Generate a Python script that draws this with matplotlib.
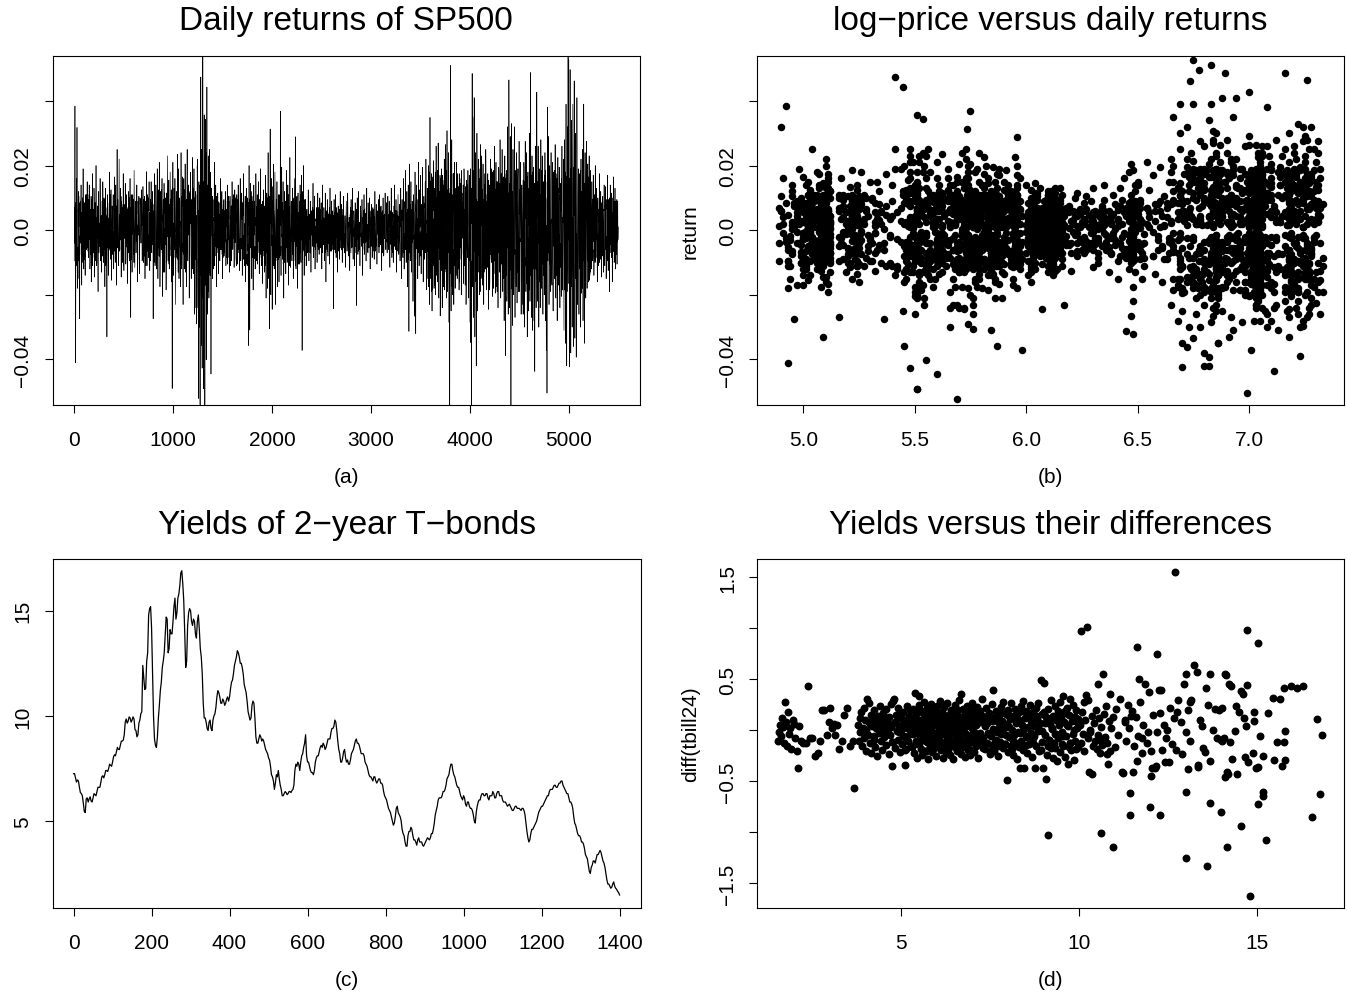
import matplotlib
matplotlib.use("Agg")
import matplotlib.pyplot as plt
import numpy as np

plt.rcParams['font.family'] = ['Liberation Sans', 'DejaVu Sans']

# SP500 daily returns (basis points), four days sampled in each week, Oct 1982 - mid 2004
# day 1 of the week (holds the big moves)
sp_ret_bp = [
    -95, 384, -410, 160, 318, -180, 120, -150, -274, 90, 140, -170, 60, 190, -120, 85, -140, 110, -60, 150,
    110, -85, 140, -120, 60, -160, 95, 175, -70, 130, -145, 40, 200, -110, 75, -190, 120, -50, 160, -95,
    -130, 90, 150, -100, 45, -175, 130, -60, -330, 110, -140, 70, 180, -90, 125, -155, 55, 100, -120, 165,
    -80, 140, -170, 250, 95, -110, 220, -60, 130, -145, 80, -100, 175, -125, 60, 145, -90, 110, -165, 70,
    120, -95, 160, -270, 75, -130, 110, -55, 185, -115, 90, -70, 140, -160, 50, 105, -135, 80, -40, 125,
    -90, 135, -60, 105, -150, 70, 181, -110, 45, -85, 150, -125, 95, 150, -70, 120, -274, 60, 175, -100,
    140, -110, 190, -150, 85, 210, -175, 120, -60, 160, -205, 95, 145, -130, 70, -185, 115, 230, -95, 155,
    -120, 180, 95, -160, -490, 210, -140, 75, 160, -230, 120, -85, 235, 190, -150, 100, -175, 240, -110, 165,
    -230, 160, -120, 205, 90, -175, 250, -95, 140, -210, 115, 180, -150, 70, 225, -135, 190, -260, 120, -240,
    -290, 150, -240, -521, -300, -2000, 474, -357, -427, 910, -491, 357, -830, 343, -401, 443, -260, 230, -210, 250,
    180, -445, 130, -150, 95, -120, 210, -80, 140, -175, 60, 115, -135, 85, -95, 160, -60, 120, -150, 75,
    95, -70, 120, -110, 55, 140, -85, 65, -130, 105, 45, -95, 150, -60, 80, -115, 125, 30, -90, 110,
    -105, 140, 70, -125, 160, -90, 115, -140, 85, 175, -110, 60, -160, 130, -75, 100, -357, 200, -309, 145,
    120, -150, 90, -185, 140, 65, -120, 175, -95, 110, -70, 150, -135, 80, 190, -110, 55, -165, 125, -80,
    -130, 170, -210, 115, -180, 240, -150, -305, 313, -200, 160, -245, 135, 205, -120, 180, -230, 95, 150, -175,
    110, -160, 85, 368, -140, 195, -90, 150, -210, 120, 70, -135, 185, -100, 140, -170, 60, 225, -115, 90,
    -95, 130, -150, 75, 160, 289, -120, 90, -180, 115, 55, -105, 140, -85, 170, -372, 120, 200, -140, 95,
    80, -110, 65, -70, 125, -95, 40, 90, -130, 60, -50, 145, -85, 105, -120, 35, 70, -100, 115, -60,
    -75, 100, -55, 85, -120, 140, -40, 70, -95, 115, -160, 60, 95, -80, 45, -105, 130, -65, 90, -45,
    60, -243, 95, -60, 110, -85, 50, -130, 75, 40, -90, 120, -55, 80, -100, 65, 105, -70, 45, -115,
    90, -65, 115, -80, 40, -125, 70, 95, -55, 130, -90, 60, -110, 85, 50, -233, 100, -75, 120, -60,
    -110, 75, -50, 95, -140, 60, 110, -75, 45, -95, 130, -65, 85, -40, 100, -120, 55, 80, -85, 70,
    65, -90, 120, -55, 80, -105, 40, 95, -70, 110, -45, 75, -125, 60, 100, -80, 50, 115, -60, 85,
    -70, 105, -45, 90, -115, 60, 130, -85, 55, -100, 75, 140, -60, 95, -130, 45, 110, -75, 80, -95,
    130, -150, 95, -80, 160, -120, 70, 185, -100, 120, -175, 140, -313, 205, -95, 150, -130, 85, -220, 110,
    -266, 180, -320, 140, 95, -150, 210, -110, 125, 170, -135, 80, 195, -160, 105, -90, 150, 220, -185, 130,
    -150, 200, -230, 349, -120, 175, -250, 140, 215, -180, 95, -200, 260, -140, 185, 270, -210, 120, -265, 160,
    190, -240, 155, -175, 220, -130, 265, -210, 308, -190, 240, -285, -700, 510, -250, 280, -200, 175, -230, 210,
    -180, 130, 210, -150, 95, -120, 175, -90, 145, -200, 115, 60, -165, 190, -110, 135, -230, 155, -85, 120,
    -210, 160, -285, -348, -690, 485, 350, -270, 410, -330, 240, -420, 300, -250, 220, 190, -200, 265, -150, 230,
    -170, 205, -230, 140, -120, 250, -185, 110, 175, -245, 130, -160, 220, -90, 155, -205, 185, -135, 260, -195,
    210, -175, 150, -240, 195, -130, 280, -210, 120, 250, -190, 165, -280, 230, -388, 175, -220, 320, -260, 465,
    -240, 290, -580, 330, -295, 250, -200, 320, -270, 185, 240, -225, 160, -190, 275, -150, 210, -260, 140, -230,
    -260, 210, -300, 275, -190, 240, -330, 180, -250, 300, -220, 488, -270, 230, -310, 195, -280, -437, 260, -240,
    427, -220, 260, -300, 190, -240, 280, -180, 230, -260, 150, -200, 240, -280, -372, -504, 381, 290, -230, 200,
    -190, 240, -160, 210, -250, 180, -140, 265, -210, 150, -280, 225, -170, 195, -240, 130, -205, 260, -185, 220,
    -310, 280, -350, 390, -420, 320, 580, 527, -423, 497, -380, 340, -300, 390, -360, 462, -334, 300, -393, 410,
    -230, 190, -260, 175, -300, 220, -195, 250, -280, 390, -350, 240, -210, 275, -180, 205, -160, 230, -140, 185,
    -120, 150, -95, 170, -140, 110, 200, -85, 130, -160, 90, -110, 175, -70, 120, -145, 80, 105, -130, 140,
    -110, 135, -150, 95, 170, -125, 80, -190, 140, -70, 115, -160, 100, 165, -95, 130, -120, 75, -105, 90,
]

# day 2 of the week
sp_ret_tue_bp = [
    70, -25, -95, 40, 105, -60, 15, -110, 85, -5, -75, 55, 100, -40, 25, -90, 65, -15, 95, -50,
    -65, 90, 10, -100, 50, -30, 80, -85, 20, 110, -45, 60, -10, -95, 75, 35, -70, 5, 100, -55,
    45, -80, 105, -20, -60, 95, 30, -105, 70, -35, 15, 85, -50, -90, 55, 0, -75, 110, -25, 65,
    -100, 35, 75, -55, 10, -85, 105, 50, -30, 90, -65, 20, -110, 80, 40, -15, 95, -45, 60, -70,
    25, 100, -40, 70, -90, 55, -5, -75, 110, -60, 35, 85, -20, -105, 65, 15, -50, 95, -35, 80,
    -55, 15, 95, -80, 45, -110, 70, 20, -65, 100, -30, 55, -95, 35, 85, -45, 5, -100, 75, -20,
    90, -120, 30, 110, -50, 75, -95, 15, 125, -70, 45, -130, 60, -15, 100, -85, 20, 130, -40, -105,
    -35, 115, -80, 55, 130, -110, 20, -60, 95, -125, 70, 10, -90, 120, -25, 85, -115, 45, 105, -65,
    110, -45, 75, -130, 25, 95, -70, 130, -15, -100, 60, 120, -85, 40, -120, 85, -30, 100, -55, 15,
    -180, 220, -90, 150, -240, 60, 190, -130, 250, -210, 110, -60, 230, -170, 80, -250, 140, -40, 200, -120,
    60, -95, 25, 105, -70, 40, -110, 85, -20, 100, -55, 10, 75, -90, 50, -35, 110, -75, 20, 90,
    -80, 45, 100, -30, 65, -105, 15, 90, -60, 35, -95, 75, 5, -50, 110, -85, 30, 60, -110, 40,
    95, -60, 20, -100, 80, -25, 110, -70, 45, -90, 10, 105, -45, 65, -110, 30, 85, -15, -80, 55,
    -40, 105, -85, 35, -15, 90, -65, 110, 0, -105, 60, -30, 95, -75, 25, 80, -100, 50, -20, 70,
    75, -110, 55, -20, 100, -90, 30, -60, 110, -45, 85, -105, 15, 65, -80, 105, -35, 40, -95, 25,
    -90, 30, 110, -65, 50, -20, 85, -105, 40, 95, -75, 10, -55, 100, -30, 70, -110, 60, -10, 80,
    50, -75, 95, -35, 20, -110, 65, 105, -85, 30, -50, 90, -15, -100, 75, 45, -65, 110, -25, -80,
    -45, 60, -20, 35, -65, 10, 50, -55, 25, -5, 70, -40, 15, 55, -60, 30, -25, 65, -50, 5,
    40, -15, 65, -50, 20, -70, 5, 45, -35, 60, -10, 30, -65, 50, -25, 70, -45, 15, -55, 35,
    -60, 25, -5, 55, -40, 70, -20, 35, -65, 10, 50, -30, 65, -15, 45, -55, 20, -70, 30, 0,
    15, -50, 70, -25, 40, -65, 30, -10, 60, -45, 5, 55, -35, 20, -70, 45, -15, 65, -40, 25,
    -30, 55, -15, 65, -45, 20, -60, 40, -5, 70, -35, 10, 50, -55, 25, -20, 60, -40, 35, -65,
    50, -35, 20, -60, 65, -10, 40, -50, 15, -25, 70, -45, 30, -5, 55, -65, 10, 45, -30, 60,
    -20, 65, -45, 30, -5, 55, -60, 15, 40, -35, 70, -10, 25, -50, 60, -25, 50, -70, 5, 35,
    75, -40, 20, -85, 55, -15, 90, -60, 35, -5, 65, -90, 45, -25, 80, -50, 10, 70, -75, 30,
    -65, 85, -20, 50, -90, 25, 70, -40, 10, -80, 60, -30, 90, -55, 15, 40, -70, 80, -10, 55,
    130, -60, 180, -150, 40, -190, 95, 165, -110, 20, -170, 140, -35, 75, -130, 185, -80, 55, -160, 110,
    -120, 170, -45, 90, -185, 60, 150, -95, 10, -140, 190, -70, 115, -20, 160, -175, 35, 125, -60, -100,
    80, -140, 45, 175, -90, 20, -160, 120, -55, 185, -25, 65, -125, 150, -70, 100, -180, 30, 140, -40,
    -150, 60, 190, -95, 130, -175, 15, 110, -55, 160, -125, 85, -190, 40, 175, -80, 125, -20, -145, 95,
    105, -165, 35, 140, -75, 180, -115, 50, -20, 155, -135, 90, -50, 190, -90, 25, -180, 120, 60, -110,
    -60, 150, -125, 25, 185, -95, 70, -170, 115, -35, 160, -80, 10, -145, 130, 55, -190, 95, -20, 170,
    145, -85, 20, -180, 120, 65, -140, 175, -45, 95, -160, 35, 190, -110, 50, -25, 150, -125, 80, -70,
    -135, 190, -60, 85, -150, 30, 165, -100, 55, -185, 110, -15, 140, -75, 180, -120, 40, -165, 95, 10,
    90, -175, 130, -40, 160, -115, 25, 185, -70, 115, -140, 60, -190, 100, -30, 150, -95, 45, -160, 125,
    -115, 60, -170, 145, -20, 95, -150, 30, 175, -85, 125, -45, 70, -185, 110, -10, 160, -130, 40, 90,
    170, -130, 60, -190, 145, -25, 115, -165, 85, -60, 190, -105, 35, 155, -145, 70, -180, 125, -40, 100,
    -90, 160, -140, 45, 185, -75, 120, -20, -170, 105, -55, 150, -120, 30, 175, -95, 65, -155, 135, -35,
    55, -85, 25, 100, -60, 10, -95, 75, -30, 90, -45, 65, -100, 35, -15, 85, -70, 45, -5, 80,
    -75, 40, -100, 65, -20, 95, -55, 15, 85, -40, 100, -90, 30, -65, 50, -10, 90, -45, 70, -30,
]

# day 3 of the week
sp_ret_mid_bp = [
    12, -35, 48, -8, 60, -52, 25, -18, 75, -40, 5, 33, -66, 20, -28, 42, -10, 55, -45, 18,
    -22, 40, -5, 65, -38, 15, -58, 30, -12, 50, -70, 8, 36, -25, 58, -15, 22, -48, 10, 44,
    30, -15, 52, -42, 6, 68, -30, 20, -55, 38, -8, 26, -62, 45, -20, 10, -36, 72, -4, -28,
    -45, 22, -10, 58, -32, 40, -65, 14, 28, -18, 50, -40, 8, 62, -26, 35, -52, 18, -6, 46,
    8, -48, 35, -20, 70, -12, 42, -58, 24, -6, 55, -34, 16, -72, 38, -22, 60, -10, 30, -44,
    -30, 55, -16, 28, -60, 44, -4, 36, -48, 66, -24, 12, -40, 50, -8, 32, -62, 20, 48, -14,
    45, -28, 70, -55, 18, -80, 35, -10, 62, -42, 24, -66, 52, 6, -36, 84, -20, 40, -58, 12,
    -60, 30, -14, 78, -46, 22, -85, 56, -8, 40, -70, 64, 12, -32, 88, -52, 26, -18, 74, -40,
    50, -75, 20, -38, 90, -55, 34, -12, 68, -84, 26, -45, 80, -22, 10, -64, 46, -30, 72, -18,
    -110, 160, -85, 120, -190, 70, -140, 200, -60, 150, -175, 95, -125, 180, -40, 110, -90, 65, -130, 85,
    -40, 72, -18, 50, -85, 30, -8, 64, -52, 20, -36, 88, -62, 14, 46, -28, 58, -74, 24, -10,
    36, -14, 55, -42, 10, 68, -30, 22, -58, 44, -6, 30, -48, 62, -20, 8, -38, 50, -66, 18,
    -26, 60, -44, 12, 78, -58, 34, -16, 52, -80, 20, -36, 70, -8, 44, -64, 28, -12, 86, -50,
    48, -22, 66, -54, 18, -88, 40, -6, 74, -36, 58, -18, 32, -72, 14, 60, -44, 26, -62, 10,
    -55, 80, -30, 64, -95, 42, -20, 105, -70, 28, -48, 90, -12, 56, -84, 36, -26, 72, -60, 16,
    62, -40, 24, -78, 50, -14, 86, -56, 30, -8, 68, -44, 18, -90, 38, -24, 74, -50, 12, -34,
    -30, 58, -68, 20, -44, 76, -8, 40, -82, 34, -18, 62, -50, 10, 88, -36, 26, -58, 46, -12,
    18, -36, 42, -10, 50, -28, 6, -46, 32, -14, 56, -22, 38, -52, 12, 28, -40, 20, -8, 46,
    -24, 44, -12, 30, -50, 16, 38, -34, 8, -18, 52, -30, 22, -42, 6, 36, -20, 48, -26, 14,
    28, -10, 46, -38, 14, -22, 54, -6, 34, -48, 20, -14, 40, -30, 10, 50, -36, 18, -4, 32,
    -16, 38, -44, 24, -8, 48, -28, 12, -52, 30, -20, 42, -6, 36, -40, 16, -26, 54, -12, 22,
    34, -20, 10, -46, 40, -14, 26, -38, 52, -8, 18, -32, 44, -24, 6, 38, -50, 20, -10, 30,
    -12, 42, -30, 16, -48, 28, -4, 36, -22, 54, -18, 8, -40, 32, -14, 46, -26, 12, -36, 24,
    20, -34, 48, -10, 30, -44, 14, -24, 50, -38, 6, 40, -16, 28, -52, 18, -8, 44, -30, 12,
    -40, 62, -22, 48, -70, 30, -10, 56, -46, 18, -34, 74, -58, 26, -14, 64, -38, 8, 52, -28,
    54, -32, 76, -58, 20, -44, 68, -12, 40, -80, 28, -18, 60, -50, 14, 84, -36, 22, -66, 36,
    -70, 95, -40, 120, -85, 30, -110, 60, -20, 130, -75, 45, -100, 15, 88, -55, 110, -30, 70, -125,
    85, -60, 140, -30, 100, -120, 50, -90, 20, 125, -45, 75, -135, 40, -15, 110, -80, 60, -105, 35,
    -50, 75, -25, 95, -70, 40, -110, 20, 65, -45, 85, -15, 55, -90, 30, -60, 100, -35, 12, -80,
    120, -95, 60, -140, 35, 150, -70, 105, -30, 80, -160, 45, -115, 90, -55, 130, -20, 70, -125, 15,
    -85, 60, -130, 25, 110, -50, 90, -115, 40, -20, 140, -75, 55, -100, 15, 120, -60, 35, -95, 70,
    65, -120, 30, 95, -70, 145, -40, 80, -105, 20, 125, -55, 100, -25, 60, -140, 85, -15, 115, -65,
    -100, 135, -50, 80, -145, 30, 110, -75, 160, -20, 90, -130, 45, -85, 125, -35, 70, -155, 25, 105,
    120, -60, 150, -110, 40, -165, 85, -25, 130, -90, 55, -140, 20, 100, -70, 165, -45, 75, -120, 35,
    -95, 150, -40, 110, -160, 65, -20, 135, -105, 50, -75, 170, -30, 90, -140, 25, 115, -60, 145, -85,
    70, -125, 35, -95, 150, -50, 110, -20, 85, -140, 45, -70, 130, -15, 95, -115, 60, -160, 25, -80,
    -140, 180, -60, 125, -190, 90, -30, 160, -110, 70, -175, 40, 135, -85, 195, -50, 100, -150, 20, -120,
    95, -70, 150, -120, 40, -160, 80, -25, 130, -95, 55, -145, 20, 110, -60, 165, -35, 75, -130, 45,
    -40, 75, -20, 60, -90, 30, -55, 85, -10, 45, -70, 25, -35, 95, -15, 50, -80, 20, 65, -30,
    35, -60, 15, 80, -45, 25, -85, 55, -10, 70, -30, 40, -65, 20, 90, -50, 10, -75, 45, -25,
]

# day 4 of the week
sp_ret_thu_bp = [
    -40, 85, -110, 20, 60, -95, 105, -30, 10, 75, -65, 45, -100, 90, -20, 35, -80, 110, -5, -55,
    95, -30, 50, -75, 105, 15, -110, 65, -45, 25, 85, -95, 40, -15, -60, 100, -35, 70, -90, 5,
    -70, 20, -40, 100, 65, -110, 45, -15, 90, -85, 30, -55, 110, 10, -95, 75, -25, 50, -65, 85,
    30, -110, 55, 15, -75, 95, -45, -20, 105, -60, 70, 40, -90, 0, 85, -105, 25, 65, -35, 110,
    -85, 60, -25, 110, -45, 20, 95, -100, 5, 75, -70, 45, -110, 90, -15, -55, 100, -30, 65, -95,
    70, -100, 40, 5, 90, -35, -75, 110, -15, 60, -95, 25, 100, -60, -10, 80, -40, 55, -110, 35,
    -110, 55, -35, 125, -80, 10, 105, -60, 35, -130, 90, -20, 115, -45, 65, -100, 130, -75, 25, 80,
    100, -20, 125, -95, 40, -70, 130, -5, -110, 65, -40, 110, -130, 30, 85, -55, 15, -120, 75, -90,
    -60, 125, -100, 35, -130, 85, -10, 55, 120, -80, 20, -110, 95, -40, 130, -65, 5, -90, 110, 45,
    200, -120, 60, -230, 140, -50, 250, -160, 90, -200, 30, 180, -100, 240, -70, 120, -190, 210, -30, -140,
    -95, 70, -15, 45, -110, 95, -50, 20, 105, -70, 35, -100, 80, -5, -60, 110, -40, 65, -85, 15,
    60, -35, 90, -85, 25, -60, 105, -15, 50, -110, 75, -40, 95, -25, -70, 40, 100, -90, 10, -50,
    -70, 110, -30, 55, -95, 20, 85, -60, 105, -15, -80, 40, 100, -105, 70, -45, 15, 95, -55, -20,
    85, -25, 45, -110, 70, -50, 15, -90, 60, 100, -35, 30, -85, 110, -65, 5, 90, -40, 75, -100,
    -100, 45, -70, 90, -25, 110, -55, 20, -95, 75, -15, 60, -110, 35, 95, -40, 10, -85, 65, -60,
    40, -85, 15, -50, 105, -75, 25, 60, -100, 10, 90, -40, 70, -65, 110, -15, 45, -95, 80, -30,
    -65, 100, -20, 60, -95, 35, -50, 10, 85, -105, 45, -70, 110, -30, 20, -90, 75, -10, 55, 95,
    30, -55, 10, 60, -35, 45, -70, 20, -15, 50, -45, 65, -25, 5, -60, 40, 55, -30, 70, -20,
    -55, 20, 50, -30, 65, -5, -45, 35, -70, 15, 40, -60, 10, -20, 55, -40, 25, -65, 45, -10,
    45, -35, 15, -70, 60, -15, 30, -50, 5, 65, -25, 40, -60, 20, -45, 70, -10, 35, -55, 50,
    -35, 60, -55, 10, -20, 45, -70, 35, 15, -60, 50, -5, 25, -50, 65, -30, 40, -65, 20, -15,
    55, -10, 35, -60, 20, -40, 65, -25, 45, -15, 5, -70, 30, 50, -45, 15, -35, 60, -5, 40,
    -45, 15, -65, 40, -25, 60, -15, 30, -50, 5, -35, 55, -70, 20, 45, -10, 65, -40, 25, -55,
    35, -60, 10, -40, 55, -25, 45, -70, 20, 5, -50, 60, -35, 15, -65, 40, -20, 25, -45, 70,
    -80, 30, -55, 70, -10, 85, -40, 15, -90, 60, -20, 45, -70, 5, 55, -35, 90, -60, 25, -15,
    60, -15, 90, -45, 35, -70, 20, -85, 55, -5, 80, -60, 10, 45, -90, 70, -25, 30, -50, 85,
    -175, 85, -30, 150, -105, 60, -185, 120, 35, -140, 180, -50, 100, -160, 15, 135, -90, 170, -20, -65,
    145, -95, 35, -160, 80, -15, 185, -120, 55, -70, 130, -180, 25, 95, -145, 60, -35, 175, -110, 50,
    -110, 175, -60, 20, 135, -185, 90, -35, 160, -75, 10, 140, -100, 65, -170, 25, 120, -55, 185, -150,
    170, -40, 115, -180, 20, -100, 185, -65, 140, -15, 95, -155, 50, -130, 80, 160, -190, 30, -75, 125,
    -145, 95, -30, 175, -120, 45, -80, 160, -10, 110, -185, 65, 135, -40, 180, -155, 15, -95, 125, 50,
    115, -190, 80, -40, 140, -110, 20, 175, -65, 90, -150, 35, -25, 160, -100, 185, -55, 10, -130, 65,
    -125, 45, 165, -95, 10, -150, 185, -60, 105, -175, 30, 135, -40, 80, -190, 120, -15, 70, -100, 155,
    75, -150, 35, -85, 185, -40, 120, -175, 15, 95, -130, 170, -60, 45, -110, 25, 145, -80, 190, -115,
    -160, 40, 175, -85, 110, -190, 55, -20, 140, -125, 80, -45, 185, -150, 15, 95, -70, 165, -105, 30,
    140, -95, 20, -150, 75, 185, -115, 55, -30, 160, -175, 10, 115, -70, 145, -40, 90, -185, 65, -125,
    -185, 100, -55, 165, -120, 15, 190, -140, 60, -95, 130, -30, 175, -160, 45, -115, 150, -10, 85, -175,
    125, -150, 20, 170, -85, 55, -180, 110, -30, 145, -115, 40, 185, -60, 95, -135, 15, 160, -105, 70,
    -65, 95, -35, 20, 80, -100, 50, -15, -75, 100, -55, 30, 70, -90, 10, -45, 95, -25, 60, -85,
    85, -20, 60, -95, 30, -70, 100, -45, 15, -85, 55, -5, 75, -100, 25, -60, 40, 95, -35, 10,
]

# log price of each sampled week
sp_logp = [
    4.89, 4.92, 4.93, 4.91, 4.90, 4.93, 4.95, 4.94, 4.96, 4.97, 4.95, 4.97, 4.99, 4.98, 5.00, 5.01, 5.00, 5.02, 5.03, 5.02,
    5.04, 5.05, 5.07, 5.06, 5.08, 5.10, 5.09, 5.11, 5.12, 5.10, 5.09, 5.11, 5.10, 5.08, 5.09, 5.11, 5.12, 5.10, 5.11, 5.12,
    5.12, 5.10, 5.11, 5.12, 5.10, 5.08, 5.07, 5.09, 5.09, 5.05, 5.03, 5.04, 5.06, 5.05, 5.03, 5.02, 5.04, 5.03, 5.01, 5.00,
    4.99, 5.01, 5.00, 5.04, 5.07, 5.08, 5.10, 5.09, 5.11, 5.10, 5.08, 5.09, 5.07, 5.08, 5.10, 5.09, 5.07, 5.09, 5.11, 5.10,
    5.12, 5.16, 5.17, 5.16, 5.18, 5.19, 5.18, 5.20, 5.22, 5.21, 5.23, 5.22, 5.24, 5.25, 5.23, 5.25, 5.24, 5.26, 5.25, 5.24,
    5.23, 5.21, 5.22, 5.20, 5.22, 5.24, 5.26, 5.27, 5.29, 5.28, 5.30, 5.32, 5.31, 5.33, 5.32, 5.34, 5.36, 5.35, 5.37, 5.39,
    5.40, 5.42, 5.44, 5.46, 5.45, 5.48, 5.50, 5.49, 5.51, 5.48, 5.50, 5.52, 5.51, 5.49, 5.51, 5.53, 5.50, 5.48, 5.46, 5.47,
    5.46, 5.48, 5.50, 5.52, 5.51, 5.49, 5.52, 5.53, 5.55, 5.54, 5.56, 5.58, 5.62, 5.65, 5.67, 5.69, 5.68, 5.71, 5.70, 5.69,
    5.67, 5.65, 5.68, 5.70, 5.72, 5.71, 5.73, 5.72, 5.74, 5.76, 5.75, 5.77, 5.79, 5.80, 5.81, 5.79, 5.78, 5.76, 5.74, 5.72,
    5.74, 5.73, 5.70, 5.69, 5.66, 5.60, 5.41, 5.45, 5.48, 5.51, 5.51, 5.51, 5.55, 5.535, 5.55, 5.448, 5.50, 5.52, 5.54, 5.56,
    5.57, 5.60, 5.55, 5.57, 5.56, 5.58, 5.60, 5.59, 5.61, 5.58, 5.60, 5.62, 5.61, 5.59, 5.57, 5.60, 5.62, 5.61, 5.59, 5.62,
    5.61, 5.63, 5.65, 5.64, 5.66, 5.67, 5.66, 5.68, 5.70, 5.69, 5.71, 5.72, 5.71, 5.73, 5.74, 5.73, 5.75, 5.77, 5.76, 5.78,
    5.79, 5.80, 5.82, 5.84, 5.83, 5.85, 5.86, 5.84, 5.86, 5.87, 5.86, 5.88, 5.86, 5.87, 5.85, 5.88, 5.87, 5.82, 5.84, 5.83,
    5.84, 5.86, 5.85, 5.83, 5.80, 5.81, 5.79, 5.81, 5.83, 5.82, 5.84, 5.86, 5.85, 5.87, 5.88, 5.87, 5.89, 5.88, 5.90, 5.89,
    5.89, 5.88, 5.86, 5.84, 5.80, 5.79, 5.77, 5.76, 5.735, 5.75, 5.74, 5.72, 5.73, 5.75, 5.76, 5.74, 5.76, 5.77, 5.79, 5.78,
    5.78, 5.77, 5.76, 5.75, 5.83, 5.85, 5.88, 5.90, 5.89, 5.91, 5.92, 5.90, 5.91, 5.93, 5.92, 5.94, 5.93, 5.95, 5.94, 5.96,
    5.95, 5.96, 5.94, 5.95, 5.97, 5.96, 5.97, 5.95, 5.96, 5.94, 5.95, 5.97, 5.96, 5.95, 5.96, 5.98, 5.93, 5.96, 6.01, 6.03,
    6.03, 6.02, 6.04, 6.03, 6.02, 6.01, 6.03, 6.04, 6.02, 6.03, 6.05, 6.04, 6.03, 6.05, 6.04, 6.02, 6.03, 6.04, 6.05, 6.03,
    6.04, 6.02, 6.03, 6.01, 6.02, 6.00, 6.01, 6.02, 6.03, 6.04, 6.02, 6.03, 6.05, 6.06, 6.05, 6.07, 6.06, 6.07, 6.08, 6.07,
    6.08, 6.07, 6.09, 6.08, 6.10, 6.09, 6.08, 6.10, 6.11, 6.09, 6.10, 6.11, 6.09, 6.10, 6.11, 6.10, 6.12, 6.11, 6.10, 6.11,
    6.11, 6.12, 6.13, 6.12, 6.14, 6.13, 6.14, 6.15, 6.14, 6.15, 6.16, 6.15, 6.16, 6.15, 6.16, 6.17, 6.12, 6.11, 6.10, 6.11,
    6.10, 6.09, 6.11, 6.10, 6.12, 6.11, 6.10, 6.12, 6.13, 6.12, 6.13, 6.14, 6.13, 6.12, 6.13, 6.14, 6.15, 6.14, 6.13, 6.12,
    6.12, 6.11, 6.12, 6.10, 6.11, 6.12, 6.13, 6.14, 6.15, 6.16, 6.18, 6.19, 6.20, 6.21, 6.22, 6.23, 6.24, 6.23, 6.25, 6.26,
    6.26, 6.27, 6.28, 6.29, 6.30, 6.31, 6.30, 6.32, 6.33, 6.32, 6.34, 6.35, 6.36, 6.35, 6.37, 6.38, 6.39, 6.38, 6.40, 6.41,
    6.42, 6.41, 6.43, 6.45, 6.44, 6.46, 6.47, 6.48, 6.47, 6.49, 6.48, 6.49, 6.45, 6.47, 6.48, 6.50, 6.49, 6.51, 6.48, 6.47,
    6.47, 6.46, 6.48, 6.50, 6.51, 6.52, 6.54, 6.53, 6.55, 6.57, 6.58, 6.59, 6.60, 6.61, 6.62, 6.63, 6.64, 6.65, 6.66, 6.68,
    6.68, 6.66, 6.65, 6.66, 6.69, 6.71, 6.70, 6.73, 6.75, 6.77, 6.76, 6.78, 6.80, 6.79, 6.81, 6.84, 6.83, 6.85, 6.84, 6.86,
    6.85, 6.84, 6.86, 6.84, 6.83, 6.85, 6.87, 6.86, 6.84, 6.86, 6.85, 6.83, 6.78, 6.83, 6.85, 6.84, 6.86, 6.87, 6.85, 6.87,
    6.88, 6.90, 6.92, 6.91, 6.94, 6.96, 6.98, 6.97, 7.00, 7.01, 7.00, 7.02, 7.01, 7.03, 7.02, 7.04, 7.03, 7.05, 7.04, 7.03,
    7.03, 7.01, 6.97, 6.86, 6.87, 6.89, 6.93, 6.92, 6.94, 6.91, 6.90, 6.82, 6.85, 6.88, 6.92, 6.96, 6.98, 7.00, 7.03, 7.06,
    7.08, 7.10, 7.12, 7.14, 7.13, 7.16, 7.18, 7.17, 7.19, 7.18, 7.20, 7.19, 7.21, 7.20, 7.18, 7.19, 7.17, 7.18, 7.20, 7.19,
    7.18, 7.16, 7.19, 7.21, 7.23, 7.25, 7.26, 7.28, 7.27, 7.29, 7.26, 7.28, 7.24, 7.25, 7.23, 7.21, 7.22, 7.24, 7.22, 7.26,
    7.27, 7.25, 7.21, 7.22, 7.24, 7.27, 7.25, 7.28, 7.26, 7.29, 7.31, 7.30, 7.32, 7.33, 7.31, 7.29, 7.30, 7.32, 7.31, 7.28,
    7.27, 7.25, 7.23, 7.24, 7.22, 7.20, 7.18, 7.19, 7.17, 7.18, 7.16, 7.16, 7.18, 7.15, 7.13, 7.14, 7.10, 7.11, 7.08, 7.06,
    7.00, 7.04, 7.06, 7.08, 7.10, 7.11, 7.12, 7.10, 7.09, 7.08, 7.05, 7.06, 7.04, 7.02, 7.01, 6.99, 7.08, 7.00, 7.03, 7.05,
    7.05, 7.06, 7.04, 7.05, 7.07, 7.06, 7.05, 7.03, 7.04, 7.06, 7.05, 7.04, 7.06, 7.05, 7.03, 7.02, 7.00, 6.98, 6.96, 6.94,
    6.93, 6.90, 6.86, 6.83, 6.80, 6.72, 6.75, 6.747, 6.70, 6.776, 6.80, 6.82, 6.78, 6.75, 6.72, 6.737, 6.747, 6.69, 6.82, 6.877,
    6.80, 6.78, 6.76, 6.74, 6.73, 6.72, 6.70, 6.69, 6.68, 6.69, 6.70, 6.74, 6.76, 6.78, 6.80, 6.82, 6.84, 6.85, 6.86, 6.88,
    6.88, 6.89, 6.90, 6.91, 6.90, 6.92, 6.93, 6.94, 6.95, 6.94, 6.96, 6.97, 6.98, 6.99, 7.00, 7.01, 7.02, 7.03, 7.04, 7.05,
    7.04, 7.03, 7.05, 7.02, 7.01, 7.03, 7.04, 7.02, 7.00, 7.01, 7.03, 7.04, 7.05, 7.03, 7.02, 7.04, 7.03, 7.02, 7.01, 7.03,
]

# 2-year T-bond yields (%), weeks 0, 5, 10, ...
tb_yield = [
    7.25, 7.05, 6.95, 6.6, 6.3, 5.85, 5.4, 6.1, 6.05, 5.95, 6.1, 6.25, 6.4, 6.6, 6.85, 7.15, 7.2, 7.4, 7.5, 7.65,
    7.8, 8.15, 8.3, 8.4, 8.6, 8.8, 9.1, 9.85, 9.75, 9.9, 9.8, 9.85, 9.3, 9.1, 9.8, 10.2, 11.8, 11.3, 13.0, 15.1,
    14.2, 10.0, 8.6, 9.0, 10.5, 11.6, 12.6, 13.9, 14.6, 13.2, 13.9, 14.5, 15.6, 14.9, 15.8, 16.8, 16.3, 14.0, 12.6, 14.9,
    15.0, 14.3, 14.5, 13.7, 14.8, 13.2, 12.0, 9.9, 9.7, 9.3, 9.8, 9.3, 10.0, 10.4, 11.2, 10.9, 10.6, 10.7, 10.6, 10.9,
    10.9, 11.6, 12.0, 12.6, 13.1, 12.8, 12.5, 12.0, 11.3, 10.7, 10.0, 9.9, 10.7, 9.9, 8.7, 8.9, 9.0, 8.9, 8.6, 8.3,
    8.0, 7.6, 7.1, 6.5, 7.2, 7.4, 6.7, 6.2, 6.3, 6.35, 6.3, 6.4, 6.45, 6.7, 7.7, 7.8, 7.4, 8.1, 8.5, 9.1,
    7.8, 7.6, 7.3, 7.2, 7.8, 8.1, 8.3, 8.6, 8.7, 8.4, 8.7, 8.9, 9.2, 9.4, 9.8, 9.3, 8.4, 7.8, 8.0, 8.4,
    7.8, 7.7, 7.9, 8.3, 8.6, 8.9, 8.7, 8.4, 8.2, 8.1, 7.7, 7.4, 7.1, 7.0, 7.1, 6.9, 6.9, 7.0, 6.8, 6.4,
    6.1, 5.8, 5.5, 5.2, 4.8, 5.2, 5.7, 5.3, 5.0, 4.4, 4.0, 3.8, 4.5, 4.7, 4.3, 4.1, 3.85, 4.2, 4.0, 3.85,
    3.9, 4.1, 4.15, 4.2, 4.4, 4.9, 5.5, 6.0, 6.1, 6.2, 6.4, 6.7, 7.1, 7.5, 7.7, 7.2, 6.9, 6.6, 6.4, 6.1,
    6.2, 5.8, 5.9, 5.7, 5.6, 5.3, 4.9, 5.7, 6.0, 6.2, 6.3, 6.2, 6.3, 6.0, 6.2, 6.4, 6.1, 6.3, 6.4, 6.2,
    6.0, 5.9, 5.8, 5.75, 5.7, 5.5, 5.6, 5.7, 5.6, 5.55, 5.6, 5.5, 4.9, 4.2, 4.1, 4.6, 4.7, 4.9, 5.2, 5.5,
    5.7, 5.8, 6.0, 6.2, 6.4, 6.5, 6.6, 6.7, 6.6, 6.8, 6.9, 6.7, 6.5, 6.3, 6.1, 5.9, 5.6, 4.9, 4.6, 4.3,
    4.2, 4.0, 3.7, 3.3, 2.9, 2.5, 2.9, 3.1, 3.2, 3.4, 3.6, 3.3, 3.0, 2.5, 2.0, 1.9, 1.85, 2.1, 1.8, 1.65,
    1.48,
]

# yields at weeks 2.5, 7.5, 12.5, ...
tb_yield_mid = [
    7.25, 6.85, 6.9, 6.35, 6.2, 5.45, 6.05, 5.9, 6.15, 5.9, 6.3, 6.2, 6.6, 6.6, 7.1, 7.05, 7.4, 7.35, 7.7, 7.6,
    8.05, 8.1, 8.5, 8.4, 8.8, 8.85, 9.7, 9.65, 9.95, 9.7, 9.95, 9.35, 9.0, 9.65, 10.1, 12.4, 11.25, 12.6, 14.8, 15.2,
    12.2, 8.9, 8.5, 9.9, 11.2, 12.3, 13.0, 14.7, 13.0, 14.1, 13.9, 15.2, 14.6, 15.6, 16.2, 16.9, 15.5, 12.3, 14.3, 15.1,
    14.5, 14.6, 13.9, 14.5, 14.1, 12.8, 10.6, 9.9, 9.4, 9.7, 9.4, 9.8, 10.1, 10.9, 11.1, 10.6, 10.8, 10.5, 10.8, 10.7,
    11.3, 11.7, 12.4, 12.8, 13.0, 12.5, 12.3, 11.5, 11.1, 10.2, 9.8, 10.5, 10.6, 9.0, 8.7, 9.1, 8.8, 8.8, 8.4, 8.2,
    7.9, 7.2, 6.9, 6.8, 7.1, 7.0, 6.5, 6.2, 6.4, 6.25, 6.4, 6.35, 6.5, 7.4, 7.6, 7.7, 7.8, 8.2, 8.7, 8.1,
    7.8, 7.4, 7.3, 7.4, 8.0, 8.1, 8.5, 8.5, 8.6, 8.5, 8.9, 8.9, 9.4, 9.5, 9.7, 8.8, 8.2, 7.8, 8.3, 8.0,
    7.9, 7.7, 8.2, 8.4, 8.8, 8.7, 8.6, 8.2, 8.2, 7.8, 7.6, 7.2, 7.1, 6.9, 7.1, 6.8, 7.0, 6.8, 6.7, 6.2,
    6.0, 5.6, 5.4, 5.0, 4.9, 5.6, 5.4, 5.2, 4.6, 4.3, 3.8, 4.3, 4.5, 4.6, 4.1, 4.0, 4.1, 4.0, 4.0, 3.8,
    4.0, 4.2, 4.1, 4.4, 4.6, 5.3, 5.7, 6.1, 6.1, 6.4, 6.5, 7.0, 7.2, 7.7, 7.4, 7.1, 6.7, 6.6, 6.2, 6.0,
    6.1, 5.7, 5.9, 5.6, 5.5, 5.0, 5.4, 5.9, 6.0, 6.3, 6.2, 6.3, 6.1, 6.2, 6.2, 6.3, 6.1, 6.4, 6.2, 6.2,
    5.9, 5.9, 5.7, 5.8, 5.6, 5.5, 5.7, 5.6, 5.6, 5.5, 5.6, 5.3, 4.5, 4.0, 4.4, 4.6, 4.8, 5.0, 5.4, 5.6,
    5.7, 5.9, 6.1, 6.2, 6.5, 6.5, 6.7, 6.6, 6.7, 6.8, 6.9, 6.6, 6.4, 6.3, 5.9, 5.8, 5.2, 4.8, 4.4, 4.3,
    4.0, 3.9, 3.4, 3.2, 2.6, 2.8, 3.1, 3.0, 3.4, 3.5, 3.5, 3.1, 2.8, 2.2, 2.0, 1.8, 2.0, 1.9, 1.75, 1.6,
]

# yield level vs weekly change
tb_level = [
    1.55, 1.58, 1.62, 1.64, 1.67, 1.70, 1.72, 1.75, 1.78, 1.80,
    1.83, 1.86, 1.90, 1.93, 1.97, 2.00, 2.04, 2.08, 2.12, 2.15,
    2.20, 2.26, 2.33, 2.39, 2.45, 2.52, 2.60, 2.68, 2.74, 2.80,
    2.86, 2.92, 2.98, 3.03, 3.08, 3.12, 3.17, 3.22, 3.28, 3.35,
    3.42, 3.50, 3.58, 3.65, 3.70,
    3.80, 3.83, 3.85, 3.87, 3.90, 3.92, 3.94, 3.96, 3.98, 4.00,
    4.02, 4.04, 4.06, 4.08, 4.10, 4.12, 4.14, 4.16, 4.18, 4.20,
    4.22, 4.24, 4.26, 4.28, 4.30, 4.32, 4.34, 4.36, 4.38, 4.40,
    4.42, 4.44, 4.46, 4.48, 4.50, 4.52, 4.54, 4.56, 4.58, 4.60,
    4.62, 4.64, 4.66, 4.68, 4.70, 4.72, 4.74, 4.75, 4.77, 4.79,
    4.81, 4.83, 4.85, 4.87, 4.89, 4.91, 4.93, 4.95, 4.97, 4.99,
    5.01, 5.03, 5.05, 5.07, 5.09, 5.11, 5.13, 5.15, 5.17, 5.19,
    5.21, 5.23, 5.25, 5.27, 5.29,
    5.31, 5.32, 5.34, 5.35, 5.37, 5.38, 5.40, 5.41, 5.43, 5.44,
    5.46, 5.47, 5.49, 5.50, 5.52, 5.53, 5.55, 5.56, 5.58, 5.59,
    5.61, 5.62, 5.64, 5.65, 5.67, 5.68, 5.70, 5.71, 5.73, 5.74,
    5.76, 5.77, 5.79, 5.80, 5.82, 5.83, 5.85, 5.86, 5.88, 5.89,
    5.91, 5.92, 5.94, 5.95, 5.97, 5.98, 6.00, 6.01, 6.03, 6.04,
    6.06, 6.07, 6.09, 6.10, 6.12, 6.13, 6.15, 6.16, 6.18, 6.19,
    6.21, 6.22, 6.24, 6.25, 6.27, 6.28, 6.30, 6.31, 6.33, 6.34,
    6.36, 6.37, 6.39, 6.40, 6.42, 6.43, 6.45, 6.46, 6.48, 6.49,
    6.51, 6.52, 6.54, 6.55, 6.57, 6.58, 6.60, 6.61, 6.63, 6.64,
    6.66, 6.67, 6.68, 6.70, 6.71, 6.73, 6.74, 6.76, 6.77, 6.79,
    6.80, 6.82, 6.83, 6.85, 6.86, 6.88, 6.89, 6.91, 6.92, 6.94,
    6.95, 6.97, 6.98, 7.00, 7.01, 7.03, 7.04, 7.06, 7.07, 7.09,
    7.10, 7.12, 7.13, 7.15, 7.16, 7.18, 7.20, 7.22, 7.24, 7.27,
    7.29,
    7.31, 7.33, 7.35, 7.37, 7.39, 7.41, 7.43, 7.45, 7.47, 7.49,
    7.51, 7.53, 7.55, 7.57, 7.59, 7.60, 7.62, 7.64, 7.66, 7.68,
    7.70, 7.72, 7.74, 7.76, 7.78, 7.80, 7.82, 7.84, 7.86, 7.88,
    7.90, 7.92, 7.94, 7.97, 7.98, 8.00, 8.02, 8.04, 8.06, 8.08,
    8.10, 8.12, 8.14, 8.16, 8.18, 8.20, 8.22, 8.24, 8.26, 8.28,
    8.30, 8.32, 8.35, 8.36, 8.38, 8.40, 8.42, 8.44, 8.46, 8.48,
    8.50, 8.52, 8.54, 8.56, 8.58, 8.60, 8.62, 8.64, 8.66, 8.68,
    8.70, 8.72, 8.74, 8.76, 8.78, 8.80, 8.82, 8.84, 8.86, 8.88,
    8.90, 8.93, 8.95, 8.97, 9.00, 9.02, 9.04, 9.06, 9.08, 9.10,
    9.13, 9.14, 9.16, 9.18, 9.20, 9.22, 9.24, 9.26, 9.28, 9.30,
    9.32, 9.34, 9.36, 9.38, 9.40, 9.42, 9.44, 9.46, 9.48, 9.50,
    9.52, 9.54, 9.56, 9.58, 9.60, 9.62, 9.64, 9.66, 9.68, 9.70,
    9.72, 9.74, 9.76, 9.78, 9.80, 9.82, 9.84, 9.86, 9.88, 9.90,
    9.92, 9.94, 9.96, 9.98,
    10.02, 10.05, 10.06, 10.08, 10.10, 10.13, 10.15, 10.18, 10.20, 10.23,
    10.24, 10.26, 10.27, 10.30, 10.32, 10.35, 10.37, 10.40, 10.42, 10.45,
    10.48, 10.50, 10.52, 10.54, 10.56, 10.58, 10.60, 10.61, 10.63, 10.65,
    10.68, 10.70, 10.72, 10.75, 10.78, 10.79, 10.81, 10.83, 10.86, 10.88,
    10.90, 10.94, 10.96, 11.00, 11.05, 11.10,
    11.15, 11.20, 11.24, 11.28, 11.30, 11.32, 11.36, 11.40, 11.44, 11.44,
    11.45, 11.48, 11.50, 11.55, 11.60, 11.62, 11.62, 11.66, 11.68, 11.72,
    11.76, 11.77, 11.80, 11.86, 11.90, 11.92, 11.95, 12.00, 12.01, 12.01,
    12.04, 12.08, 12.13, 12.15, 12.18, 12.20, 12.24, 12.27, 12.27, 12.30,
    12.33, 12.38, 12.40, 12.45, 12.48, 12.52, 12.55, 12.60, 12.65, 12.70,
    12.71, 12.74, 12.78, 12.85, 12.90, 12.93, 12.99, 12.99, 12.99, 13.00,
    13.05, 13.05, 13.10, 13.12, 13.15, 13.23, 13.32, 13.33, 13.35, 13.40,
    13.45, 13.48, 13.52, 13.56, 13.58, 13.62, 13.67, 13.67, 13.68, 13.75,
    13.80, 13.86, 13.92, 13.98, 13.98, 14.00, 14.02, 14.06, 14.08, 14.08,
    14.12, 14.14, 14.15, 14.18, 14.20, 14.22, 14.26, 14.30, 14.36, 14.40,
    14.42, 14.48, 14.54, 14.54, 14.60, 14.63, 14.65, 14.68, 14.70, 14.71,
    14.75, 14.79, 14.89, 14.92, 14.92, 14.95, 15.01, 15.01, 15.01, 15.08,
    15.15, 15.16, 15.15, 15.23, 15.30, 15.43, 15.47, 15.55, 15.63, 15.70,
    15.75, 15.75, 15.77, 15.78, 15.93, 16.10, 16.27, 16.54, 16.67, 16.76,
    16.82,
    4.05, 4.15, 4.25, 4.35, 4.45, 4.55, 4.65, 4.75, 4.85, 4.95,
    5.05, 5.15, 5.25, 5.35, 5.45, 5.55, 5.65, 5.75, 5.85, 5.95,
    6.05, 6.15, 6.25, 6.35, 6.45, 6.55, 6.65, 6.75, 6.85, 6.95,
    7.05, 7.15, 7.25, 7.35, 7.45, 7.55, 7.65, 7.75, 7.85, 7.95,
    8.05, 8.15, 8.25, 8.35, 8.45, 8.55, 8.65, 8.75, 8.85, 8.95,
    9.05, 9.15, 9.25, 9.35, 9.45, 9.55, 9.65, 9.75, 9.85, 9.95,
    5.36, 5.57, 5.78, 5.99, 6.20, 6.41, 6.62, 6.83, 7.04, 7.25,
    5.02, 5.12, 5.22, 5.32, 5.42, 5.52, 5.62, 5.72, 5.82, 5.92,
    6.02, 6.12, 6.22, 6.32, 6.42, 6.52, 6.62, 6.72, 6.82, 6.92,
    7.02, 7.12, 7.22, 7.32, 7.42, 7.52, 7.62, 7.72, 7.82, 7.92,
    8.02, 8.12, 8.22, 8.32, 8.42, 8.52, 8.62, 8.72, 8.82, 8.92,
    9.02, 9.12, 9.22, 9.32, 9.42, 9.52, 9.62, 9.72, 9.82, 9.92,
    5.07, 5.27, 5.47, 5.67, 5.87, 6.07, 6.27, 6.47, 6.67, 6.87,
]

tb_diff = [
    -0.10, -0.02, 0.05, -0.06, 0.12, 0.03, -0.12, 0.28, 0.08, -0.15,
    0.18, -0.04, 0.02, -0.18, 0.10, 0.06, -0.08, -0.20, -0.37, 0.04,
    -0.10, -0.12, -0.12, 0.43, -0.08, -0.08, -0.25, -0.22, -0.10, 0.20,
    0.20, -0.05, 0.08, 0.22, 0.02, 0.06, -0.05, 0.05, -0.18, -0.10,
    0.15, 0.22, -0.15, -0.10, -0.57,
    0.05, -0.10, 0.12, -0.02, 0.18, -0.15, 0.02, 0.22, -0.08, 0.10,
    -0.20, 0.00, 0.31, -0.05, 0.27, 0.08, -0.12, 0.15, -0.22, 0.04,
    0.12, -0.06, 0.20, -0.16, 0.02, 0.09, -0.25, 0.14, -0.03, 0.06,
    0.24, -0.10, 0.00, -0.19, 0.17, 0.05, -0.07, 0.11, -0.14, 0.21,
    -0.02, 0.07, -0.23, 0.13, -0.05, 0.26, 0.03, -0.35, 0.29, -0.11,
    0.31, 0.08, -0.17, 0.15, -0.01, 0.22, -0.09, 0.04, -0.21, 0.12,
    0.00, -0.13, 0.18, 0.06, -0.06, -0.34, 0.10, -0.18, 0.24, 0.02,
    -0.10, 0.14, -0.04, 0.20, -0.15,
    0.08, -0.15, 0.21, -0.04, 0.12, -0.22, 0.37, 0.03, -0.10, 0.16,
    -0.27, 0.06, -0.13, 0.25, 0.34, -0.06, 0.10, -0.18, 0.00, 0.19,
    -0.24, 0.07, -0.09, 0.28, -0.02, 0.14, -0.20, 0.04, -0.11, 0.22,
    -0.28, 0.09, -0.05, 0.17, -0.15, 0.01, 0.26, -0.08, 0.11, -0.21,
    0.05, -0.12, 0.20, -0.03, 0.13, -0.25, 0.08, -0.07, 0.24, -0.16,
    0.02, 0.15, -0.10, 0.29, -0.19, 0.06, -0.04, 0.18, -0.27, 0.10,
    -0.13, 0.23, -0.01, 0.12, -0.22, 0.04, -0.09, 0.27, -0.17, 0.07,
    -0.06, 0.16, -0.24, 0.01, 0.20, -0.11, 0.09, -0.28, 0.14, -0.02,
    0.25, -0.14, 0.05, -0.08, 0.19, -0.20, 0.11, 0.03, -0.12, 0.30,
    -0.05, 0.13, 0.36, -0.23, 0.07, -0.10, 0.21, -0.16, 0.02, 0.17,
    -0.26, 0.09, -0.04, 0.24, -0.13, 0.06, -0.19, 0.14, -0.07, 0.22,
    -0.24, 0.03, 0.16, -0.11, 0.27, -0.02, 0.10, -0.21, 0.19, -0.06,
    0.05, -0.15, 0.23, -0.09, 0.12, -0.27, 0.08, -0.03, 0.15, -0.12,
    0.31,
    -0.08, 0.12, -0.18, 0.04, 0.22, -0.12, 0.07, -0.03, 0.17, -0.23,
    0.10, -0.06, 0.26, -0.14, 0.01, 0.40, -0.20, 0.13, -0.09, 0.19,
    -0.02, 0.08, -0.25, 0.15, -0.11, 0.23, -0.04, 0.09, -0.17, 0.28,
    0.02, -0.13, 0.16, -0.49, 0.06, -0.21, 0.20, -0.07, 0.11, -0.15,
    0.27, 0.00, -0.24, 0.14, -0.05, 0.21, -0.12, 0.07, -0.28, 0.17,
    -0.02, 0.10, -0.37, 0.24, -0.10, 0.05, -0.19, 0.29, -0.37, 0.12,
    -0.06, 0.19, -0.22, 0.03, 0.15, -0.13, 0.25, -0.03, 0.09, -0.26,
    0.18, -0.08, 0.04, -0.37, 0.22, -0.15, 0.11, -0.01, 0.27, -0.20,
    0.07, 0.49, -0.11, 0.16, -0.37, 0.46, -0.05, -0.48, 0.13, -0.24,
    -1.03, 0.21, -0.09, 0.06, -0.17, 0.30, 0.01, -0.27, 0.14, -0.12,
    0.24, -0.04, 0.10, -0.30, 0.19, -0.08, 0.05, 0.28, -0.21, 0.12,
    -0.02, 0.34, -0.15, 0.08, -0.26, 0.17, -0.06, 0.22, -0.33, 0.04,
    0.15, -0.12, 0.31, -0.19, 0.09, -0.04, 0.25, -0.29, 0.13, -0.10,
    0.20, 0.02, -0.16, 0.11,
    0.05, -0.12, 0.97, 0.18, -0.04, 0.28, -0.20, 0.10, 0.35, 1.01,
    -0.08, 0.30, -0.41, 0.00, -0.02, -0.43, 0.14, -0.15, 0.07, -0.10,
    0.20, -0.18, 0.45, -0.05, 0.12, -0.22, -0.09, -1.01, 0.03, -0.14,
    0.55, 0.16, -0.07, 0.24, -0.12, -0.23, -0.33, 0.09, 0.36, -0.20,
    0.02, -1.14, 0.13, -0.16, 0.21, -0.05,
    0.31, -0.41, -0.42, 0.08, 0.10, -0.10, 0.25, 0.02, -0.61, -0.83,
    0.14, 0.19, -0.41, -0.15, 0.13, 0.82, -0.30, -0.06, 0.50, 0.28,
    -0.22, -0.08, 0.05, 0.45, -0.12, -0.02, 0.38, -0.75, -0.45, -0.20,
    -0.37, 0.15, -0.37, -0.35, -0.02, 0.75, 0.40, -0.83, 0.17, 0.40,
    -0.19, 0.05, -0.31, -0.08, 0.00, -0.31, 0.22, -0.13, 0.12, 1.556,
    -0.19, 0.18, 0.30, 0.08, -0.23, 0.45, 0.55, -0.60, -1.25, -0.02,
    0.20, -0.38, -0.10, 0.28, 0.30, 0.64, 0.57, -0.34, -0.36, 0.10,
    0.04, -0.17, -0.21, 0.42, -1.33, 0.25, 0.55, -0.30, -0.71, 0.00,
    0.21, -0.08, 0.20, -0.09, -0.80, 0.22, -0.10, -0.08, 0.55, -0.46,
    0.54, -1.14, -0.41, -0.43, 0.45, -0.11, 0.43, -0.28, -0.01, 0.24,
    -0.43, 0.18, 0.39, -0.94, 0.36, 0.12, -0.26, 0.04, 0.44, 0.98,
    -0.31, -1.62, -0.22, 0.18, 0.09, -0.37, 0.86, -0.36, -0.72, -0.06,
    -0.60, -0.25, -0.64, -1.08, 0.17, 0.32, -0.29, -0.11, 0.31, -0.35,
    0.42, -0.11, -0.01, -0.29, 0.43, 0.42, 0.43, -0.85, 0.11, -0.62,
    -0.05,
    -0.04, 0.06, -0.09, 0.03, 0.10, -0.05, 0.01, -0.11, 0.07, -0.02,
    0.04, -0.08, 0.11, -0.01, 0.05, -0.10, 0.08, -0.03, 0.02, -0.07,
    0.09, -0.04, 0.03, -0.12, 0.06, 0.00, -0.06, 0.10, -0.09, 0.04,
    -0.02, 0.07, -0.08, 0.05, -0.04, 0.09, -0.11, 0.02, 0.06, -0.05,
    0.03, -0.10, 0.08, -0.03, 0.01, -0.07, 0.11, -0.06, 0.04, -0.01,
    0.07, -0.09, 0.02, -0.04, 0.10, -0.06, 0.05, -0.12, 0.00, 0.08,
    0.03, -0.05, 0.06, -0.08, 0.01, 0.09, -0.03, -0.10, 0.05, -0.07,
    0.16, -0.19, 0.13, -0.16, 0.19, -0.13, 0.17, -0.20, 0.14, -0.17,
    0.18, -0.14, 0.15, -0.19, 0.12, -0.16, 0.20, -0.15, 0.13, -0.18,
    0.16, -0.12, 0.19, -0.17, 0.14, -0.20, 0.12, -0.15, 0.18, -0.13,
    0.15, -0.18, 0.13, -0.16, 0.19, -0.14, 0.17, -0.12, 0.14, -0.19,
    0.18, -0.15, 0.12, -0.17, 0.16, -0.13, 0.19, -0.16, 0.13, -0.18,
    -0.06, 0.07, -0.02, 0.05, -0.08, 0.03, -0.05, 0.08, -0.01, 0.06,
]

titles = ['Daily returns of SP500', 'log\u2212price versus daily returns',
          'Yields of 2\u2212year T\u2212bonds', 'Yields versus their differences']
panel_tags = ['(a)', '(b)', '(c)', '(d)']

fig = plt.figure(figsize=(13.47, 9.95), dpi=100)
W, H = 1347.0, 995.0


def add_box(left, right, top, bottom):
    return fig.add_axes([left / W, 1 - bottom / H, (right - left) / W, (bottom - top) / H])


def dress(ax, title, tag, ylab=None):
    ax.set_title(title, fontsize=24, pad=19)
    ax.set_xlabel(tag, fontsize=15, labelpad=13)
    if ylab:
        ax.set_ylabel(ylab, fontsize=15, labelpad=13)
    ax.tick_params(axis='both', labelsize=15, length=6, width=0.8, direction='out')
    ax.tick_params(axis='x', pad=12)
    ax.tick_params(axis='y', pad=8.4)
    for lab in ax.get_yticklabels():
        lab.set_rotation(90)
        lab.set_va('center')
    for s in ax.spines.values():
        s.set_linewidth(0.8)


ret_ticks = [-0.04, -0.02, 0.0, 0.02, 0.04]
ret_labels = ['\u22120.04', '', '0.0', '0.02', '']

# four sampled days per week, in time order
day_sets = [np.array(s) / 10000.0 for s in (sp_ret_bp, sp_ret_tue_bp, sp_ret_mid_bp, sp_ret_thu_bp)]
ret_all = np.column_stack(day_sets).ravel()
days = np.linspace(1, 5500, len(ret_all))

# (a)
ax = add_box(52.5, 640, 56.7, 405.7)
ax.plot(days, ret_all, color='black', lw=0.45)
ax.set_xlim(-219, 5720)
ax.set_ylim(-0.054, 0.054)
ax.set_xticks([0, 1000, 2000, 3000, 4000, 5000])
ax.set_yticks(ret_ticks)
ax.set_yticklabels(ret_labels)
dress(ax, titles[0], panel_tags[0])

# (b)
ax = add_box(757, 1344, 56.7, 405.7)
for r in day_sets:
    ax.plot(sp_logp, r, 'o', color='black', ms=5.4, mew=0)
ax.set_xlim(4.792, 7.426)
ax.set_ylim(-0.054, 0.054)
ax.set_xticks([5.0, 5.5, 6.0, 6.5, 7.0])
ax.set_xticklabels(['5.0', '5.5', '6.0', '6.5', '7.0'])
ax.set_yticks(ret_ticks)
ax.set_yticklabels(ret_labels)
dress(ax, titles[1], panel_tags[1], 'return')

# (c)
yld = np.empty(len(tb_yield) + len(tb_yield_mid))
yld[0::2] = tb_yield
yld[1::2] = tb_yield_mid
weeks = np.arange(len(yld)) * 2.5
ax = add_box(52.5, 641, 560, 909)
ax.plot(weeks, yld, color='black', lw=0.9)
ax.set_xlim(-54, 1455)
ax.set_ylim(0.86, 17.46)
ax.set_xticks(range(0, 1401, 200))
ax.set_yticks([5, 10, 15])
dress(ax, titles[2], panel_tags[2])

# (d)
ax = add_box(757, 1344, 560, 909)
ax.plot(tb_level, tb_diff, 'o', color='black', ms=5.7, mew=0)
ax.set_xlim(0.97, 17.43)
ax.set_ylim(-1.742, 1.68)
ax.set_xticks([5, 10, 15])
ax.set_yticks([-1.5, -1.0, -0.5, 0.0, 0.5, 1.0, 1.5])
ax.set_yticklabels(['\u22121.5', '', '\u22120.5', '', '0.5', '', '1.5'])
dress(ax, titles[3], panel_tags[3], 'diff(tbill24)')

fig.savefig('out.png', dpi=100)
